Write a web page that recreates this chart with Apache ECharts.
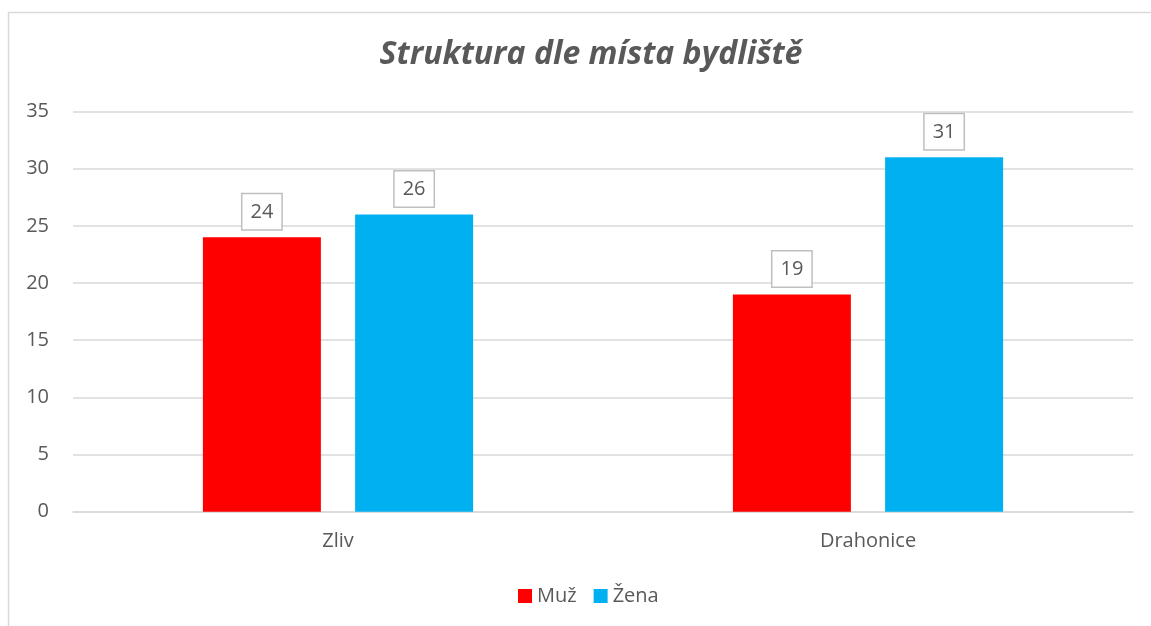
<!DOCTYPE html>
<html>
<head>
<meta charset="utf-8">
<script src="https://cdn.jsdelivr.net/npm/echarts@6/dist/echarts.min.js"></script>
<style>
  html, body { margin: 0; padding: 0; background: #fff; }
  #chart { width: 1151px; height: 626px; }
</style>
</head>
<body>
<div id="chart"></div>
<script>
// data
const categories = ["Zliv", "Drahonice"];
const muz = [24, 19];
const zena = [26, 31];
const seriesNames = ["Muž", "Žena"];

const textColor = "#595959";
const font = "'Open Sans', sans-serif";

const chart = echarts.init(document.getElementById("chart"));

const label = {
  show: true,
  position: "top",
  distance: 8,
  color: textColor,
  fontSize: 20,
  fontFamily: font,
  backgroundColor: "#fff",
  borderColor: "#bfbfbf",
  borderWidth: 1.5,
  padding: [8, 8, 7, 8],
};

const option = {
  animation: false,
  backgroundColor: "#fff",
  graphic: [
    {
      type: "rect",
      shape: { x: 8.5, y: 12.5, width: 1200, height: 700 },
      style: { fill: "none", stroke: "#d9d9d9", lineWidth: 1.5 },
      silent: true,
    },
  ],
  title: {
    text: "Struktura dle místa bydliště",
    left: 586,
    textAlign: "center",
    top: 34,
    textStyle: {
      color: textColor,
      fontSize: 32,
      fontWeight: "bold",
      fontStyle: "italic",
      fontFamily: font,
    },
  },
  legend: {
    bottom: 15,
    left: 513,
    itemWidth: 14,
    itemHeight: 14,
    itemGap: 17,
    icon: "rect",
    textStyle: { color: textColor, fontSize: 20, fontFamily: font },
    data: seriesNames,
  },
  grid: {
    left: 73,
    right: 18,
    top: 111.5,
    bottom: 114.3,
  },
  xAxis: {
    type: "category",
    data: categories,
    axisTick: { show: false },
    axisLine: { lineStyle: { color: "#d9d9d9", width: 1.5 } },
    axisLabel: { color: textColor, fontSize: 20, fontFamily: font, margin: 20 },
  },
  yAxis: {
    type: "value",
    min: 0,
    max: 35,
    interval: 5,
    axisLine: { show: false },
    axisTick: { show: false },
    splitLine: { lineStyle: { color: "#d9d9d9", width: 1.5 } },
    axisLabel: { color: textColor, fontSize: 20, fontFamily: font, margin: 24 },
  },
  series: [
    {
      name: seriesNames[0],
      type: "bar",
      data: muz,
      barWidth: 118,
      barGap: "29%",
      itemStyle: { color: "#ff0000" },
      label: label,
    },
    {
      name: seriesNames[1],
      type: "bar",
      data: zena,
      barWidth: 118,
      barGap: "29%",
      itemStyle: { color: "#00b0f0" },
      label: label,
    },
  ],
};

chart.setOption(option);
</script>
</body>
</html>
